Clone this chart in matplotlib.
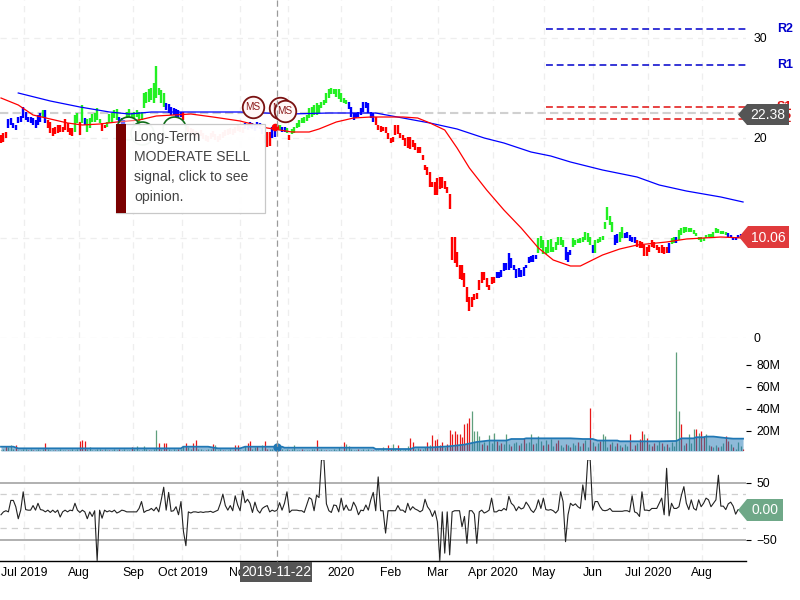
""" Stock chart with price bars, volume and CCI panels.
"""

import matplotlib
matplotlib.use('Agg')
import matplotlib.pyplot as plt
from matplotlib.patches import Polygon, Rectangle
import numpy as np

plt.rcParams['font.family'] = ['Liberation Sans', 'DejaVu Sans']

# Bar highs and lows, one value per trading day
highs = [
    20.3, 20.5, 20.6, 21.9, 22.0, 21.5, 21.3, 22.1, 22.2, 23.1,
    22.6, 22.1, 22.1, 22.0, 21.8, 22.3, 22.5, 22.8, 22.8, 21.8,
    21.6, 21.0, 21.1, 21.3, 21.3, 21.1, 21.9, 21.5, 21.0, 21.0,
    22.3, 22.5, 21.6, 23.3, 22.0, 21.9, 22.0, 22.4, 22.5, 23.0,
    21.9, 21.5, 21.3, 21.6, 22.4, 22.5, 22.8, 22.9, 22.1, 22.0,
    21.8, 22.6, 22.9, 22.5, 22.6, 22.8, 22.6, 22.6, 24.5, 24.6,
    24.9, 25.0, 25.5, 27.2, 25.0, 24.8, 24.5, 23.5, 23.4, 23.1,
    23.0, 22.9, 22.8, 22.6, 22.6, 21.4, 21.2, 21.0, 20.9, 20.7,
    20.6, 20.8, 20.5, 20.3, 20.2, 20.5, 20.7, 20.4, 20.2, 20.4,
    20.6, 20.8, 20.9, 21.0, 20.9, 21.1, 21.3, 21.2, 21.1, 21.5,
    21.4, 21.6, 21.5, 21.3, 21.6, 21.5, 21.0, 20.3, 20.6, 20.6,
    21.1, 21.3, 21.3, 21.3, 21.1, 21.1, 21.0, 20.3, 20.9, 21.1,
    21.5, 21.8, 22.0, 22.1, 22.3, 23.0, 23.1, 23.3, 23.5, 23.3,
    23.6, 23.8, 24.5, 24.9, 25.0, 24.9, 24.9, 24.9, 24.5, 24.0,
    23.8, 23.6, 23.1, 22.5, 22.5, 22.6, 23.0, 23.6, 23.6, 23.5,
    22.6, 22.5, 22.1, 21.3, 21.2, 21.1, 21.1, 20.5, 20.0, 20.1,
    21.3, 21.3, 20.5, 20.3, 20.0, 20.1, 20.1, 19.8, 19.5, 19.1,
    19.1, 18.3, 17.3, 17.1, 16.6, 15.6, 15.6, 16.0, 16.1, 16.1,
    15.7, 15.1, 14.4, 10.1, 10.1, 8.6, 7.3, 7.3, 6.5, 5.1,
    4.1, 4.1, 4.4, 4.5, 5.8, 6.6, 6.6, 6.0, 5.3, 6.1,
    6.1, 6.6, 6.6, 6.8, 7.5, 7.5, 8.5, 8.0, 7.3, 6.9,
    7.0, 6.8, 7.1, 7.3, 8.1, 8.2, 8.3, 8.3, 10.0, 10.2,
    9.8, 9.1, 9.8, 9.9, 9.1, 9.6, 10.1, 10.1, 9.8, 9.1,
    8.6, 8.8, 10.0, 9.8, 9.9, 10.0, 10.1, 10.6, 10.5, 10.1,
    9.3, 9.8, 9.9, 10.1, 10.2, 11.6, 13.1, 12.2, 11.6, 10.3,
    10.4, 10.6, 11.1, 10.5, 10.6, 10.3, 10.1, 10.1, 9.8, 9.7,
    9.6, 9.3, 9.1, 9.3, 9.8, 9.6, 9.3, 9.1, 9.3, 9.1,
    9.1, 9.5, 10.0, 10.1, 10.1, 10.8, 11.0, 11.1, 11.1, 11.0,
    11.0, 10.8, 10.5, 10.1, 10.1, 10.0, 10.3, 10.4, 10.4, 10.6,
    11.0, 10.9, 10.7, 10.7, 10.6, 10.5, 10.3, 10.1, 10.1, 10.3,
    10.4, 10.2,
]
lows = [
    19.5, 19.6, 20.0, 21.0, 21.3, 21.0, 20.8, 21.5, 21.6, 22.0,
    21.8, 21.6, 21.5, 21.3, 21.0, 21.3, 21.6, 22.1, 21.5, 21.0,
    20.5, 20.2, 20.4, 20.5, 20.6, 20.6, 20.8, 20.6, 20.3, 20.2,
    20.6, 21.5, 20.3, 21.5, 21.3, 20.6, 21.0, 21.6, 21.6, 21.8,
    21.5, 20.7, 21.0, 21.1, 21.5, 21.6, 22.0, 21.8, 21.5, 21.3,
    21.3, 22.0, 22.1, 22.0, 22.0, 22.1, 21.6, 21.8, 23.0, 23.5,
    23.6, 23.8, 23.5, 24.0, 24.3, 23.5, 23.1, 22.8, 22.5, 22.3,
    22.3, 22.1, 22.1, 22.1, 21.8, 20.8, 20.6, 20.4, 20.3, 20.1,
    20.0, 20.2, 19.9, 19.7, 19.6, 19.9, 20.1, 19.8, 19.6, 19.8,
    20.0, 20.2, 20.3, 20.4, 20.3, 20.5, 20.7, 20.6, 20.5, 20.9,
    20.8, 21.0, 20.9, 20.7, 21.0, 20.9, 20.4, 19.5, 19.1, 19.2,
    20.0, 20.1, 20.9, 20.8, 20.6, 20.6, 20.5, 19.8, 20.4, 20.5,
    21.0, 21.1, 21.5, 21.5, 21.7, 22.0, 22.1, 22.3, 22.3, 22.5,
    23.0, 23.3, 23.5, 24.0, 24.4, 24.4, 24.1, 23.9, 23.6, 23.5,
    23.4, 22.9, 22.1, 21.8, 22.0, 22.1, 22.3, 22.6, 23.0, 22.5,
    22.0, 21.6, 21.3, 20.8, 20.6, 20.7, 20.5, 19.9, 19.5, 19.6,
    20.3, 20.4, 20.0, 19.8, 19.2, 19.0, 18.9, 19.1, 18.8, 18.5,
    18.5, 17.8, 16.8, 16.3, 15.1, 15.1, 14.3, 14.3, 14.9, 15.0,
    14.9, 14.5, 12.9, 7.8, 7.5, 7.1, 5.9, 5.8, 5.1, 3.6,
    2.7, 3.1, 3.8, 3.9, 4.8, 5.5, 5.8, 5.1, 4.8, 5.4,
    5.5, 6.0, 6.0, 6.1, 6.7, 6.8, 6.8, 7.0, 6.8, 6.0,
    6.1, 6.1, 6.2, 7.0, 7.5, 7.6, 7.6, 7.9, 8.5, 9.0,
    8.4, 8.4, 8.5, 8.6, 8.6, 8.8, 9.3, 9.3, 9.1, 7.8,
    7.6, 8.3, 9.1, 9.3, 9.5, 9.5, 9.6, 9.8, 9.6, 9.3,
    8.5, 8.5, 9.5, 9.6, 9.8, 10.9, 11.8, 11.3, 10.6, 9.3,
    9.5, 9.6, 10.0, 10.0, 10.0, 9.7, 9.6, 9.5, 9.1, 9.0,
    9.0, 8.2, 8.2, 8.6, 9.1, 9.0, 8.8, 8.5, 8.5, 8.4,
    8.5, 8.5, 9.4, 9.5, 9.5, 9.8, 10.3, 10.5, 10.6, 10.6,
    10.6, 10.4, 10.2, 9.8, 9.6, 9.7, 10.0, 10.1, 10.1, 10.1,
    10.5, 10.5, 10.4, 10.4, 10.3, 10.1, 10.0, 9.8, 9.8, 10.0,
    10.1, 9.9,
]

# Signal state of the bars: (state, number of bars)
signal_runs = [
    ('sell', 3), ('hold', 14), ('buy', 1), ('hold', 1), ('sell', 11), ('buy', 2),
    ('sell', 1), ('buy', 1), ('hold', 1), ('buy', 6), ('sell', 2), ('buy', 5),
    ('hold', 3), ('buy', 16), ('hold', 7), ('sell', 25), ('hold', 8), ('sell', 3),
    ('hold', 2), ('buy', 2), ('hold', 2), ('buy', 1), ('sell', 1), ('buy', 23),
    ('hold', 11), ('sell', 49), ('hold', 17), ('buy', 11), ('hold', 3), ('buy', 8),
    ('hold', 1), ('buy', 8), ('hold', 2), ('buy', 2), ('hold', 5), ('sell', 13),
    ('hold', 1), ('buy', 2), ('hold', 1), ('buy', 20), ('hold', 7),
]

# Moving averages, read at a few bars
ma_long_idx = [7, 20, 32, 44, 52, 61, 77, 97, 117, 133, 143, 152, 163, 174, 185,
               196, 204, 215, 223, 231, 244, 258, 267, 278, 292, 301]
ma_long_val = [24.5, 23.7, 23.1, 22.6, 22.4, 22.6, 22.6, 22.6, 22.4, 22.5, 22.5, 22.5, 22.0, 21.5, 20.9,
               20.0, 19.5, 18.6, 18.2, 17.6, 16.8, 16.1, 15.3, 14.7, 14.1, 13.6]
ma_short_idx = [0, 7, 13, 20, 27, 33, 40, 47, 56, 63, 70, 77, 86, 97, 108, 118, 125, 129, 136, 143, 150,
                163, 169, 174, 180, 185, 190, 197, 204, 211, 218, 224, 231, 235, 244, 251, 258, 270,
                278, 292, 301]
ma_short_val = [24.0, 23.3, 22.3, 21.9, 21.5, 21.3, 21.4, 21.6, 21.8, 22.2, 22.3, 22.4, 22.1, 21.7, 21.0,
                20.6, 20.6, 20.9, 21.6, 22.0, 22.1, 22.1, 22.0, 21.5, 20.8, 19.0, 17.0, 14.8, 12.8, 11.0,
                9.0, 7.8, 7.2, 7.2, 8.3, 8.9, 9.3, 9.6, 9.9, 10.1, 10.0]

# Volume in millions
volume = [
    3, 4, 6, 5, 7, 4, 7.5, 3, 3, 4,
    4, 3, 4, 2.5, 3, 3.5, 3, 4, 9, 3.5,
    3, 2.5, 3, 3, 3.5, 3, 3, 2.5, 3, 3.5,
    3, 3.5, 11, 12, 11, 4, 5, 3, 3, 3.5,
    4, 3, 3.5, 3, 2.5, 3, 4, 3, 3.5, 3,
    4, 3, 3, 5, 3.5, 6, 3, 3, 6, 4,
    3, 3, 3.5, 21.3, 9.5, 3.5, 9.5, 9.5, 3.5, 3,
    3.5, 3, 4, 4, 6, 9, 5, 3.5, 9, 12,
    4, 3.5, 3, 3, 3.5, 4, 8, 7, 3, 3.5,
    3, 3, 3, 4, 3, 7, 7, 3, 3, 6,
    9, 11, 4, 5, 6, 3, 7, 11, 4, 4,
    3.5, 4, 3.5, 3.5, 4, 3, 4, 3, 3.5, 7,
    3, 3, 3.5, 3, 3, 3, 3.5, 4, 11.5, 3,
    3.5, 3, 2.5, 3, 3, 4, 3, 5, 3, 10,
    8, 6, 3.5, 3, 3, 4, 3, 3.5, 3, 3.5,
    3, 3, 3, 3, 3, 5, 3, 7, 4, 8,
    3.5, 7, 4, 3, 3.5, 6, 13.2, 10.2, 4, 4.5,
    4, 4, 5, 10, 7, 16, 11.7, 13, 7, 9.6,
    5, 8, 20.7, 16.8, 19.8, 17.7, 16.8, 14.7, 26.7, 27.6,
    32, 37.8, 19.8, 19.8, 15, 8, 10, 7, 15.9, 9,
    18.6, 11, 7, 9, 8, 16.8, 8, 6, 9, 10,
    7, 9, 14, 9, 10, 16.8, 8, 9, 15.3, 11,
    7, 12, 8, 13, 6, 9, 12, 7, 5, 8,
    7, 5, 9, 7, 10, 6, 9, 12, 5, 41,
    10, 6, 9, 11, 16.8, 15, 5, 8, 10, 6,
    9, 7, 5, 8, 6, 17.7, 4, 7, 9, 12.7,
    19.8, 17.7, 13.2, 8, 6, 9, 7, 11, 9, 6,
    8, 5, 10, 6, 91.6, 37.8, 26, 7, 9, 17.7,
    9, 21.6, 22, 18, 19.8, 15.3, 17.7, 7, 6, 5,
    7, 5, 6, 9, 15.3, 11, 8, 5, 4, 10,
    6, 4,
]
volume_red = [2, 6, 11, 13, 18, 22, 27, 32, 33, 34, 41, 44, 48, 53, 60, 64, 66, 67, 72, 75, 78, 79, 83,
              86, 90, 95, 96, 100, 101, 104, 107, 108, 113, 117, 122, 128, 132, 139, 145, 151, 157, 158,
              161, 166, 167, 170, 173, 175, 176, 177, 178, 179, 181, 182, 183, 184, 185, 186, 187, 188,
              189, 190, 195, 197, 201, 203, 207, 210, 212, 216, 220, 222, 225, 226, 229, 231, 234, 236,
              239, 241, 243, 247, 250, 252, 255, 257, 259, 260, 262, 264, 265, 268, 270, 276, 278, 282,
              284, 285, 288, 291, 294, 295, 297, 301]
volume_ma_idx = [0, 5, 7, 73, 74, 84, 88, 97, 99, 114, 115, 151, 152, 166, 168, 175, 182, 188, 193, 198,
                 205, 207, 212, 213, 231, 236, 240, 242, 250, 251, 267, 274, 276, 281, 282, 285, 286,
                 289, 294, 297, 301]
volume_ma_val = [5.7, 5.7, 4.2, 4.2, 5.7, 5.7, 4.2, 4.2, 5.7, 5.7, 4.8, 4.8, 3.6, 3.6, 5.1, 5.1, 6.1, 7.6,
                 10, 11.3, 11.3, 12.7, 12.7, 13.3, 13.3, 12.7, 12.7, 11.3, 11.3, 10.6, 10.6, 10.9, 13.3,
                 13.3, 14.3, 14.3, 14.9, 14.9, 13.6, 13, 13]

# Commodity channel index
cci = [
    -6, -1, 1, -1, 19, 19, 8, -13, 2, 34,
    3, 2, 2, 10, 2, 14, 3, 2, -1, 2,
    -2, 2, -2, 2, -10, -1, 2, -1, 2, 1,
    14, 2, -2, 2, -1, -13, -1, -9, 1, -86,
    2, -12, 2, -1, 1, -1, 2, -3, -1, 2,
    1, -1, -1, -1, -1, -1, 5, 17, -2, 1,
    2, 5, 1, 7, -1, 20, 42, 2, 33, 0,
    1, 8, -6, 17, -35, -60, -1, -3, -1, -1,
    -2, -1, -2, -1, -1, 0, -2, 0, 2, 14,
    30, 10, 2, 10, 1, 27, 11, 1, 36, 15,
    21, 14, -2, 16, 2, -3, 5, 8, 10, -1,
    2, 0, 2, 15, 2, 14, 34, -2, 2, 2,
    2, 1, 1, -2, 11, 24, 21, 1, 28, 24,
    90, 90, 13, 1, -2, 11, 10, -1, 23, 2,
    11, 2, 2, 16, 8, -6, 2, 1, 11, 2,
    20, 33, 1, 60, 1, 1, -38, 1, 1, 1,
    1, 10, 2, 2, -2, 14, 2, 8, 4, 2,
    -1, 2, 21, 8, 2, -9, 1, -18, -86, -1,
    -73, -1, -76, -1, 1, 1, 1, -27, -9, -56,
    1, 1, -5, -56, -1, 2, -3, -1, 2, 23,
    -1, -1, 2, 1, 5, 2, 26, 14, 10, 1,
    8, 4, 6, 16, 10, 2, -2, 5, 20, 5,
    23, 3, 2, 3, 1, -3, 2, 34, 17, -53,
    -6, 14, 10, 13, 8, 5, 46, 20, 90, 90,
    2, 17, 17, 8, 2, 1, 2, 5, 0, 0,
    0, 0, 0, 1, 1, -1, 27, -1, -3, -9,
    34, 2, 2, 1, 5, 5, 5, 14, 23, -6,
    75, -8, 14, 5, 5, 8, 28, 43, 14, 3,
    20, 5, 2, 20, 8, 14, 23, 20, 8, 14,
    20, 63, 9, 9, 3, 13, 16, 9, -5, 3,
    3, -1,
]

# Support and resistance levels
resistance = {'R2': 30.9, 'R1': 27.3}
support = {'S1': 23.1, 'S2': 21.9}

month_ticks = [9.5, 31.6, 53.7, 73.6, 96.8, 116.4, 137.9, 158.2, 177.3, 199.5, 220.3, 240.2, 262.5, 284.4]
month_labels = ['Jul 2019', 'Aug', 'Sep', 'Oct 2019', 'Nov', 'Dec', '2020', 'Feb', 'Mar', 'Apr 2020',
                'May', 'Jun', 'Jul 2020', 'Aug']

cursor_bar = 112
cursor_date = '2019-11-22'
cursor_price = 22.5
last_cursor = '22.38'
last_price = '10.06'
last_cci = '0.00'

ms_idx = [102.2, 113.2, 115.2]
ms_price = [23.1, 23.0, 22.7]
mb_idx = [51.5, 57, 70]
mb_price = [21.0, 20.5, 21.0]

signal_colors = {'sell': '#ff0000', 'hold': '#0000ff', 'buy': '#22f022'}
GRID = dict(color='#eeeeee', lw=0.9, ls=(0, (5, 4)))
W, H = 800, 600
RIGHT = 746


def panel(fig, top, bottom):
    ax = fig.add_axes([0, 1 - bottom / H, RIGHT / W, (bottom - top) / H])
    ax.patch.set_alpha(0)
    ax.set_xlim(-0.406, 302.2)
    for side in ['top', 'left', 'right', 'bottom']:
        ax.spines[side].set_visible(False)
    ax.yaxis.tick_right()
    ax.set_xticks(month_ticks)
    ax.set_xticklabels([])
    ax.tick_params(axis='x', length=0)
    ax.xaxis.grid(True, **GRID)
    ax.set_axisbelow(True)
    return ax


def badge(over, x0, x1, y0, y1, color, text):
    mid = (y0 + y1) / 2
    over.add_patch(Polygon([(x0, mid), (x0 + 9, y0), (x1, y0), (x1, y1), (x0 + 9, y1)],
                           closed=True, fc=color, ec='none', zorder=10))
    over.text((x0 + 9 + x1) / 2, mid + 0.5, text, color='white', ha='center', va='center',
              fontsize=10, zorder=11)


def main():
    fig = plt.figure(figsize=(W / 100, H / 100), dpi=100)
    x = np.arange(len(highs))
    signal = [s for s, n in signal_runs for _ in range(n)]

    # Price panel
    ax = panel(fig, 0, 338)
    ax.set_ylim(0, 33.8)
    ax.set_yticks([0, 10, 20, 30])
    ax.tick_params(axis='y', length=0, pad=5.5, labelsize=8.8)
    ax.yaxis.grid(True, **GRID)
    ax.axhline(cursor_price, color='#d0d0d0', lw=1.5, ls=(0, (4, 2)), zorder=1)
    ax.vlines(x, lows, highs, colors=[signal_colors[s] for s in signal], lw=1.7, zorder=2)
    ax.plot(ma_long_idx, ma_long_val, color='#0000ff', lw=0.9, zorder=3)
    ax.plot(ma_short_idx, ma_short_val, color='#ff0000', lw=0.9, zorder=3)
    ax.plot([111], [21.1], 'o', color='#ff0000', ms=4.5, zorder=4)
    for v in resistance.values():
        ax.plot([221, 302], [v, v], color='#0000cc', lw=1.1, ls=(0, (4.5, 2.5)), zorder=3)
    for v in support.values():
        ax.plot([221, 302], [v, v], color='#e01010', lw=1.1, ls=(0, (4.5, 2.5)), zorder=3)
    ax.plot(mb_idx, mb_price, 'o', ms=16.5, mfc=(1, 1, 1, 0.4), mec='#0d6b16', mew=1.2, zorder=5)
    for n, (i, p) in enumerate(zip(ms_idx, ms_price)):
        ax.plot([i], [p], 'o', ms=15.5, mfc=(1, 0.97, 0.97, 1), mec='#7a1212', mew=1.3, zorder=6 + 2 * n)
        ax.text(i, p, 'MS', color='#8b1a1a', fontsize=7.2, ha='center', va='center', zorder=7 + 2 * n)

    # Volume panel
    vax = panel(fig, 340, 451)
    vax.set_ylim(1.8, 102.7)
    vax.set_yticks([20, 40, 60, 80])
    vax.set_yticklabels(['20M', '40M', '60M', '80M'])
    vax.tick_params(axis='y', length=3.8, width=0.8, pad=4, labelsize=8.8)
    red = set(volume_red)
    vax.vlines(x, 1.8, volume, colors=['#e81818' if i in red else '#5f9f7c' for i in x], lw=0.9, zorder=2)
    vax.fill_between(volume_ma_idx, 1.8, volume_ma_val, color='#1f77b4', alpha=0.5, lw=0, zorder=3)
    vax.plot(volume_ma_idx, volume_ma_val, color='#1f77b4', lw=1.3, zorder=4)
    vax.plot([cursor_bar], [5.7], 'o', color='#1f77b4', ms=5, zorder=5)

    # CCI panel
    cax = panel(fig, 460, 561)
    cax.set_ylim(-86.7, 89.5)
    cax.set_yticks([-50, 50])
    cax.tick_params(axis='y', length=3.8, width=0.8, pad=4, labelsize=8.8)
    for v in [-50, 50]:
        cax.axhline(v, color='#b0b0b0', lw=1.4, zorder=1)
    for v in [-30, 30]:
        cax.axhline(v, color='#cfcfcf', lw=0.9, ls=(0, (5, 4)), zorder=1)
    cax.plot(x, cci, color='#222222', lw=0.8, zorder=3)
    cax.spines['bottom'].set_visible(True)
    cax.spines['bottom'].set_linewidth(1.0)
    cax.set_xticklabels(month_labels, fontsize=8.8)
    cax.tick_params(axis='x', length=0, pad=4.5)

    # Pixel overlay for the cursor, tags and tooltip
    over = fig.add_axes([0, 0, 1, 1], zorder=20)
    over.set_xlim(0, W)
    over.set_ylim(H, 0)
    over.axis('off')
    cx = 1 + 2.465 * cursor_bar - 0.5
    over.plot([cx, cx], [0, 561], color='#9a9a9a', lw=0.9, ls=(0, (5, 3)), zorder=1)
    over.add_patch(Rectangle((240, 562), 72, 20, fc='#555555', ec='none', zorder=5))
    over.text(276, 571.5, cursor_date, color='white', ha='center', va='center', fontsize=10, zorder=6)

    for name, y in [('R2', 29), ('R1', 65)]:
        over.text(777, y, name, color='#0000cc', fontsize=9, fontweight='bold', va='center')
    for name, y in [('S1', 107), ('S2', 119)]:
        over.text(777, y, name, color='#e01010', fontsize=9, fontweight='bold', va='center')

    badge(over, 738, 789, 104, 125, '#555555', last_cursor)
    badge(over, 739, 789, 226, 248, '#e03a3c', last_price)
    badge(over, 738, 783, 499, 521, '#6fa888', last_cci)

    over.add_patch(Rectangle((116, 124), 149, 89, fc=(1, 1, 1, 0.96), ec='#c8c8c8', lw=0.9, zorder=7))
    over.add_patch(Rectangle((116, 124), 9.5, 89, fc='#7a0000', ec='none', zorder=8))
    for line, y in zip(['Long-Term', 'MODERATE SELL', 'signal, click to see', 'opinion.'],
                       [137, 157, 177, 197]):
        over.text(134, y, line, color='#444444', fontsize=10.1, va='center', zorder=9)

    fig.savefig('out.png', dpi=100)


if __name__ == "__main__":
    main()
